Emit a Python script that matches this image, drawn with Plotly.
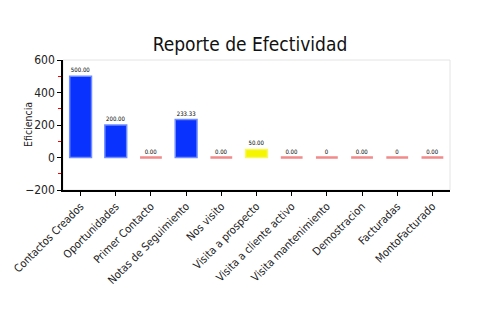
import plotly.graph_objects as go

categories = ["Contactos Creados", "Oportunidades", "Primer Contacto", "Notas de Seguimiento",
              "Nos visito", "Visita a prospecto", "Visita a cliente activo", "Visita mantenimiento",
              "Demostracion", "Facturadas", "MontoFacturado"]
values = [500, 200, 0, 233.33, 0, 50, 0, 0, 0, 0, 0]
value_labels = ["500.00", "200.00", "0.00", "233.33", "0.00", "50.00", "0.00", "0", "0.00", "0", "0.00"]
bar_colors = ["#0a32ff", "#0a32ff", "#f08080", "#0a32ff", "#f08080", "#f5f500",
              "#f08080", "#f08080", "#f08080", "#f08080", "#f08080"]
edge_colors = ["#6f8cff", "#6f8cff", "#f28a8a", "#6f8cff", "#f28a8a", "#f8f860",
               "#f28a8a", "#f28a8a", "#f28a8a", "#f28a8a", "#f28a8a"]
edge_widths = [1.5 if v else 2.5 for v in values]

FONT = "DejaVu Sans Condensed, Liberation Sans Narrow, sans-serif"

fig = go.Figure(go.Bar(
    x=categories, y=values, width=0.62,
    marker=dict(color=bar_colors, line=dict(color=edge_colors, width=edge_widths)),
    text=value_labels, textposition="outside", cliponaxis=False,
    textfont=dict(size=6, color="#000000", family=FONT),
))

fig.update_layout(
    width=500, height=330,
    margin=dict(l=61, r=50, t=60, b=140),
    paper_bgcolor="white", plot_bgcolor="white",
    font=dict(family=FONT, color="#222222"),
    title=dict(text="Reporte de Efectividad", x=0.5, xanchor="center", y=0.865, yanchor="middle",
               font=dict(size=19, color="#111111", family=FONT)),
    showlegend=False,
    shapes=[dict(type="rect", xref="paper", yref="paper", x0=0, y0=0, x1=1, y1=1,
                 line=dict(color="#e4e4e4", width=1), layer="below")],
    annotations=[dict(text="Eficiencia", xref="paper", yref="paper", x=0, y=0.5,
                      xanchor="center", yanchor="middle", xshift=-35, textangle=-90,
                      showarrow=False, font=dict(size=10.5, color="#222222", family=FONT))],
)
fig.update_xaxes(
    range=[-0.5, 10.5], showline=True, linecolor="#000000", linewidth=1.5,
    ticks="outside", ticklen=4, tickcolor="#000000", tickangle=-45,
    tickfont=dict(size=11, color="#222222"), showgrid=False,
)
fig.update_yaxes(
    range=[-200, 600], dtick=200, showline=True, linecolor="#000000", linewidth=1.5,
    ticks="outside", ticklen=4, tickcolor="#000000", showgrid=False, zeroline=False,
    tickfont=dict(size=12, color="#222222"),
    minor=dict(dtick=100, ticks="outside", ticklen=3, tickcolor="#ff0000"),
)

fig.write_html("out.html")
